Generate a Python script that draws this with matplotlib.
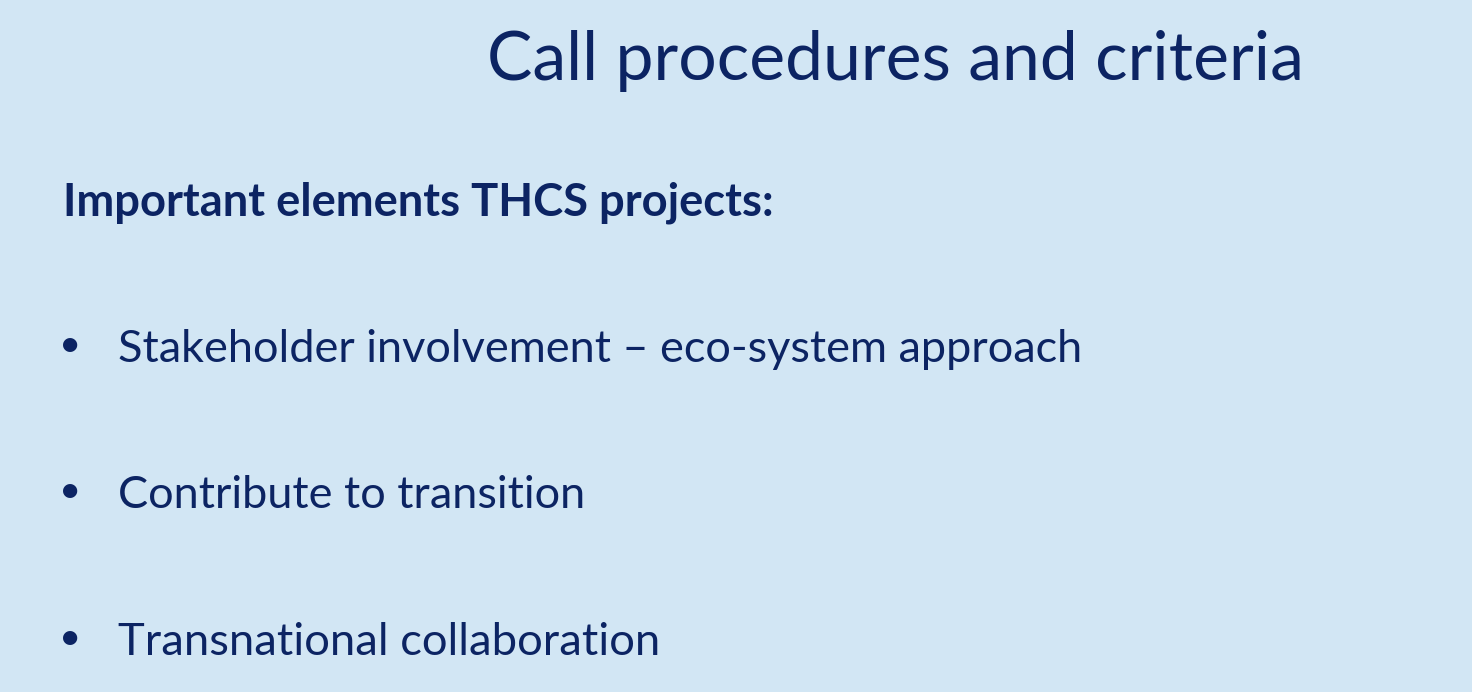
import matplotlib
matplotlib.use("Agg")
import matplotlib.pyplot as plt

# slide content
title = "Call procedures and criteria"
subtitle = "Important elements THCS projects:"
bullets = [
    "Stakeholder involvement \u2013 eco-system approach",
    "Contribute to transition",
    "Transnational collaboration",
]

W, H = 1472, 692
bg = "#D2E6F4"
navy = "#0C2463"
font = "Lato"

fig = plt.figure(figsize=(W / 100, H / 100), dpi=100)
fig.patch.set_facecolor(bg)
renderer = fig.canvas.get_renderer()


def put(s, x0, x1, base, weight="normal"):
    # place text left at x0, baseline at base (pixels from top), scaled to width x1-x0
    t = fig.text(x0 / W, 1 - base / H, s, fontsize=30, family=font,
                 weight=weight, color=navy, ha="left", va="baseline")
    w = t.get_window_extent(renderer).width
    t.set_fontsize(30 * (x1 - x0) / w)
    return t


put(title, 487, 1303, 80)
put(subtitle, 63, 775, 215, weight="bold")

rows = [(1082, 362), (586, 508), (659, 655)]
for s, (x1, base) in zip(bullets, rows):
    t = put(s, 118, x1, base)
    fig.text(70 / W, 1 - (base - 6) / H, "\u2022", fontsize=t.get_fontsize() * 0.85,
             family=font, color=navy, ha="center", va="baseline")

fig.savefig("out.png", dpi=100, facecolor=bg)
